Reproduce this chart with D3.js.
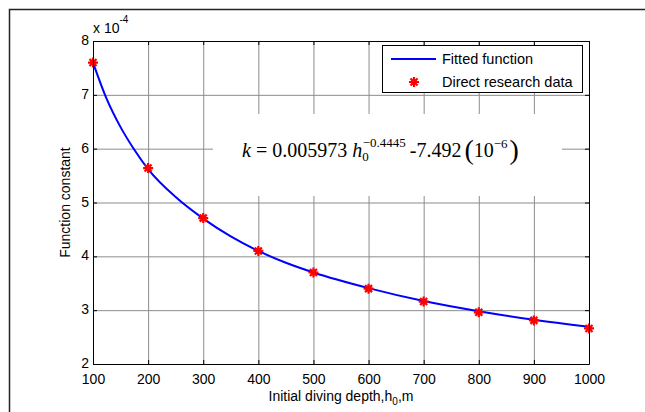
<!DOCTYPE html>
<html>
<head>
<meta charset="utf-8">
<script src="https://cdn.jsdelivr.net/npm/d3@7"></script>
<style>
  body { margin: 0; background: #fff; }
  svg text { font-family: Arial, "Liberation Sans", sans-serif; fill: #000; }
</style>
</head>
<body>
<div id="chart"></div>
<script>
// direct research data: initial diving depth (m) and function constant (x 1e-4)
const depths = [100, 200, 300, 400, 500, 600, 700, 800, 900, 1000];
const researchK = [7.60, 5.64, 4.71, 4.10, 3.70, 3.40, 3.16, 2.96, 2.81, 2.66];
// fitted curve
const fitDepths = [100, 125, 150, 175, 200, 250, 300, 350, 400, 450, 500, 600, 700, 800, 900, 1000];
const fitK = [7.60, 6.92, 6.40, 5.98, 5.62, 5.10, 4.70, 4.37, 4.10, 3.88, 3.70, 3.41, 3.17, 2.98, 2.82, 2.69];
const xTicks = [100, 200, 300, 400, 500, 600, 700, 800, 900, 1000];
const yTicks = [2, 3, 4, 5, 6, 7, 8];
const legendLabels = ["Fitted function", "Direct research data"];

const W = 645, H = 412;
const dims = { left: 93, right: 589, top: 41, bottom: 364 };
const plotW = dims.right - dims.left;
const plotH = dims.bottom - dims.top;

const svg = d3.select("#chart").append("svg")
  .attr("width", W).attr("height", H);

// outer figure frame (runs off to the right / bottom)
svg.append("rect")
  .attr("x", 9.5).attr("y", 9.5)
  .attr("width", 700).attr("height", 500)
  .attr("fill", "none").attr("stroke", "#222").attr("stroke-width", 1.5);

const x = d3.scaleLinear().domain([100, 1000]).range([dims.left, dims.right]);
const y = d3.scaleLinear().domain([2, 8]).range([dims.bottom, dims.top]);
const fmt = d3.format("d");

// grid
svg.append("g")
  .attr("transform", `translate(0,${dims.bottom})`)
  .call(d3.axisBottom(x).tickValues(xTicks).tickSize(-plotH).tickFormat(""))
  .call(g => g.select(".domain").remove())
  .call(g => g.selectAll("line").attr("stroke", "#8c8c8c"));
svg.append("g")
  .attr("transform", `translate(${dims.left},0)`)
  .call(d3.axisLeft(y).tickValues(yTicks).tickSize(-plotW).tickFormat(""))
  .call(g => g.select(".domain").remove())
  .call(g => g.selectAll("line").attr("stroke", "#8c8c8c"));

// white background behind the equation
svg.append("rect")
  .attr("x", 213).attr("y", 114)
  .attr("width", 349).attr("height", 82)
  .attr("fill", "#fff");

// fitted curve
const line = d3.line()
  .x((d, i) => x(d))
  .y((d, i) => y(fitK[i]))
  .curve(d3.curveMonotoneX);

svg.append("path")
  .datum(fitDepths)
  .attr("fill", "none")
  .attr("stroke", "#0000ff")
  .attr("stroke-width", 2)
  .attr("d", line);

// asterisk markers
const star = "M-5,0H5M0,-5V5M-3.5,-3.5L3.5,3.5M-3.5,3.5L3.5,-3.5";
svg.append("g").selectAll("path")
  .data(depths)
  .enter()
  .append("path")
  .attr("transform", (d, i) => `translate(${x(d)},${y(researchK[i])})`)
  .attr("d", star)
  .attr("fill", "none")
  .attr("stroke", "#ff0000")
  .attr("stroke-width", 2.2);

// axes (inner ticks on all four sides)
let styleAxis = g => g
  .call(g => g.selectAll("line").attr("stroke", "#000"))
  .call(g => g.select(".domain").attr("stroke", "#000"))
  .call(g => g.selectAll("text").attr("font-size", 14).attr("font-family", null).attr("fill", "#000"));

svg.append("g")
  .attr("transform", `translate(0,${dims.bottom})`)
  .call(d3.axisBottom(x).tickValues(xTicks).tickFormat(fmt).tickSizeInner(-4).tickSizeOuter(0).tickPadding(10))
  .call(styleAxis);
svg.append("g")
  .attr("transform", `translate(0,${dims.top})`)
  .call(d3.axisTop(x).tickValues(xTicks).tickSizeInner(-4).tickSizeOuter(0).tickFormat(""))
  .call(styleAxis);
svg.append("g")
  .attr("transform", `translate(${dims.left},0)`)
  .call(d3.axisLeft(y).tickValues(yTicks).tickFormat(fmt).tickSizeInner(-4).tickSizeOuter(0).tickPadding(4))
  .call(styleAxis)
  .call(g => g.selectAll("text").attr("dy", "0.25em"));
svg.append("g")
  .attr("transform", `translate(${dims.right},0)`)
  .call(d3.axisRight(y).tickValues(yTicks).tickSizeInner(-4).tickSizeOuter(0).tickFormat(""))
  .call(styleAxis);

// exponent label
let expo = svg.append("text")
  .attr("x", dims.left).attr("y", 33)
  .attr("font-size", 14);
expo.append("tspan").text("x 10");
expo.append("tspan").attr("font-size", 10).attr("dy", -10).text("-4");

// axis titles
svg.append("text")
  .attr("transform", `translate(70,${(dims.top + dims.bottom) / 2}) rotate(-90)`)
  .attr("text-anchor", "middle")
  .attr("font-size", 14)
  .text("Function constant");

let xl = svg.append("text")
  .attr("x", (dims.left + dims.right) / 2).attr("y", 401)
  .attr("text-anchor", "middle")
  .attr("font-size", 14);
xl.append("tspan").text("Initial diving depth,h");
xl.append("tspan").attr("font-size", 10).attr("dy", 4).text("0");
xl.append("tspan").attr("dy", -4).text(",m");

// legend
const legend = svg.append("g").attr("class", "legend");
legend.append("rect")
  .attr("x", 382.5).attr("y", 45.5)
  .attr("width", 200).attr("height", 47)
  .attr("fill", "#fff").attr("stroke", "#000");
legend.append("line")
  .attr("x1", 391).attr("x2", 436)
  .attr("y1", 59).attr("y2", 59)
  .attr("stroke", "#0000ff").attr("stroke-width", 2);
legend.append("path")
  .attr("transform", "translate(414,82)")
  .attr("d", star)
  .attr("fill", "none").attr("stroke", "#ff0000").attr("stroke-width", 2.2);
legend.selectAll(".lbl")
  .data(legendLabels)
  .enter()
  .append("text")
  .attr("class", "lbl")
  .attr("x", 442)
  .attr("y", (d, i) => 64 + i * 23)
  .attr("font-size", 14.5)
  .text(d => d);

// equation
const eq = svg.append("text")
  .attr("x", 242).attr("y", 157)
  .attr("font-size", 20)
  .style("font-family", "'Liberation Serif', 'Times New Roman', serif");
eq.append("tspan").attr("font-style", "italic").text("k");
eq.append("tspan").attr("dx", 5).text("= 0.005973");
eq.append("tspan").attr("dx", 5).attr("font-style", "italic").text("h");
eq.append("tspan").attr("font-size", 13).attr("dy", 4).text("0");
eq.append("tspan").attr("font-size", 13).attr("dx", -6).attr("dy", -14).text("\u22120.4445");
eq.append("tspan").attr("dx", 4).attr("dy", 10).text("-7.492");
eq.append("tspan").attr("dx", 3).attr("font-size", 28).attr("dy", 2).text("(");
eq.append("tspan").attr("dy", -2).text("10");
eq.append("tspan").attr("font-size", 13).attr("dy", -9).text("\u22126");
eq.append("tspan").attr("dx", 2).attr("font-size", 28).attr("dy", 11).text(")");
</script>
</body>
</html>
